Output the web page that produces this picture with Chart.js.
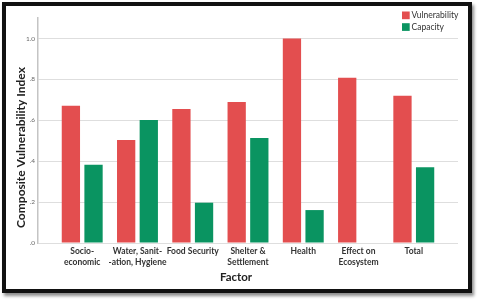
<!DOCTYPE html>
<html><head><meta charset="utf-8">
<script src="https://cdn.jsdelivr.net/npm/chart.js@4"></script>
<style>
html,body{margin:0;padding:0;background:#fff;}
#wrap{position:relative;width:480px;height:301px;overflow:hidden;}
canvas{position:absolute;left:0;top:0;}
#frame{position:absolute;left:2px;top:2px;width:470px;height:291px;box-sizing:border-box;border:4px solid #111;box-shadow:2px 3px 3px rgba(0,0,0,0.45);pointer-events:none;}
</style></head><body>
<div id="wrap"><canvas id="c" width="480" height="301"></canvas><div id="frame"></div></div>
<script>
const categories = [["Socio-","economic"],["Water, Sanit-","-ation, Hygiene"],["Food Security"],["Shelter &","Settlement"],["Health"],["Effect on","Ecosystem"],["Total"]];
const vulnerability = [0.671,0.504,0.655,0.689,1.0,0.808,0.720];
const capacity = [0.383,0.601,0.197,0.513,0.161,null,0.370];
const yTicks = [0,0.2,0.4,0.6,0.8,1.0];
const yTickLabels = [".0",".2",".4",".6",".8","1.0"];
const seriesNames = ["Vulnerability","Capacity"];
const seriesColors = ["#E34E4F","#0A9461"];
const yTitle = "Composite Vulnerability Index";
const xTitle = "Factor";

const FONT = "Lato";

function fitFont(ctx, text, weight, targetWidth) {
  ctx.font = weight + ' 10px ' + FONT;
  const w = ctx.measureText(text).width;
  const size = 10 * targetWidth / w;
  ctx.font = weight + ' ' + size.toFixed(2) + 'px ' + FONT;
}

const textPlugin = {
  id: 'texts',
  afterDraw(chart) {
    const ctx = chart.ctx;
    ctx.save();
    ctx.fillStyle = '#222';
    ctx.textAlign = 'center';
    ctx.textBaseline = 'middle';
    fitFont(ctx, yTitle, 'bold', 161);
    ctx.translate(21, 147.5);
    ctx.rotate(-Math.PI / 2);
    ctx.fillText(yTitle, 0, 0);
    ctx.restore();

    ctx.save();
    ctx.fillStyle = '#222';
    ctx.textAlign = 'center';
    ctx.textBaseline = 'middle';
    fitFont(ctx, xTitle, 'bold', 32);
    ctx.fillText(xTitle, 236, 277);
    ctx.restore();

    // legend
    ctx.save();
    ctx.textBaseline = 'middle';
    ctx.textAlign = 'left';
    fitFont(ctx, chart.data.datasets[0].label, 'normal', 47);
    chart.data.datasets.forEach((ds, i) => {
      const y = 11.5 + i * 11.7;
      ctx.fillStyle = ds.backgroundColor;
      ctx.fillRect(402, y, 7.7, 7.7);
      ctx.fillStyle = '#333';
      ctx.fillText(ds.label, 411.5, y + 4);
    });
    ctx.restore();
  }
};

function draw() {
  new Chart(document.getElementById('c'), {
    type: 'bar',
    data: {
      datasets: [
        { label: seriesNames[0], data: vulnerability.map((v, i) => ({x: i, y: v})), backgroundColor: seriesColors[0] },
        { label: seriesNames[1], data: capacity.map((v, i) => ({x: i, y: v})), backgroundColor: seriesColors[1] }
      ]
    },
    options: {
      responsive: false,
      animation: false,
      events: [],
      categoryPercentage: 0.819,
      barPercentage: 0.808,
      layout: { padding: { left: 0, right: 22, top: 18, bottom: 0 } },
      plugins: { legend: { display: false }, tooltip: { enabled: false } },
      scales: {
        x: {
          type: 'linear',
          offset: false,
          min: -0.8, max: 6.8,
          afterBuildTicks: s => { s.ticks = categories.map((c, i) => ({value: i})); },
          afterFit: s => { s.height = 58; },
          grid: { display: false, drawTicks: false, offset: false },
          border: { display: false },
          ticks: {
            autoSkip: false, maxRotation: 0, minRotation: 0, padding: 2,
            color: '#333',
            font: { family: FONT, size: 8.5, weight: 'bold', lineHeight: 1.38 },
            callback: v => categories[v]
          }
        },
        y: {
          min: 0, max: 1.1,
          afterBuildTicks: s => { s.ticks = yTicks.map(v => ({value: v})); },
          afterFit: s => { s.width = 38; },
          grid: { color: '#dedede', lineWidth: 1, drawTicks: false },
          border: { display: true, color: '#c4c4c4', width: 1.5 },
          ticks: {
            padding: 3, color: '#666',
            font: { family: FONT, size: 6.5 },
            callback: v => yTickLabels[yTicks.indexOf(v)]
          }
        }
      }
    },
    plugins: [textPlugin]
  });
}

const fl = [document.fonts.load('bold 11px Lato'), document.fonts.load('8px Lato')];
Promise.all(fl).then(draw, draw);
</script>
</body></html>
